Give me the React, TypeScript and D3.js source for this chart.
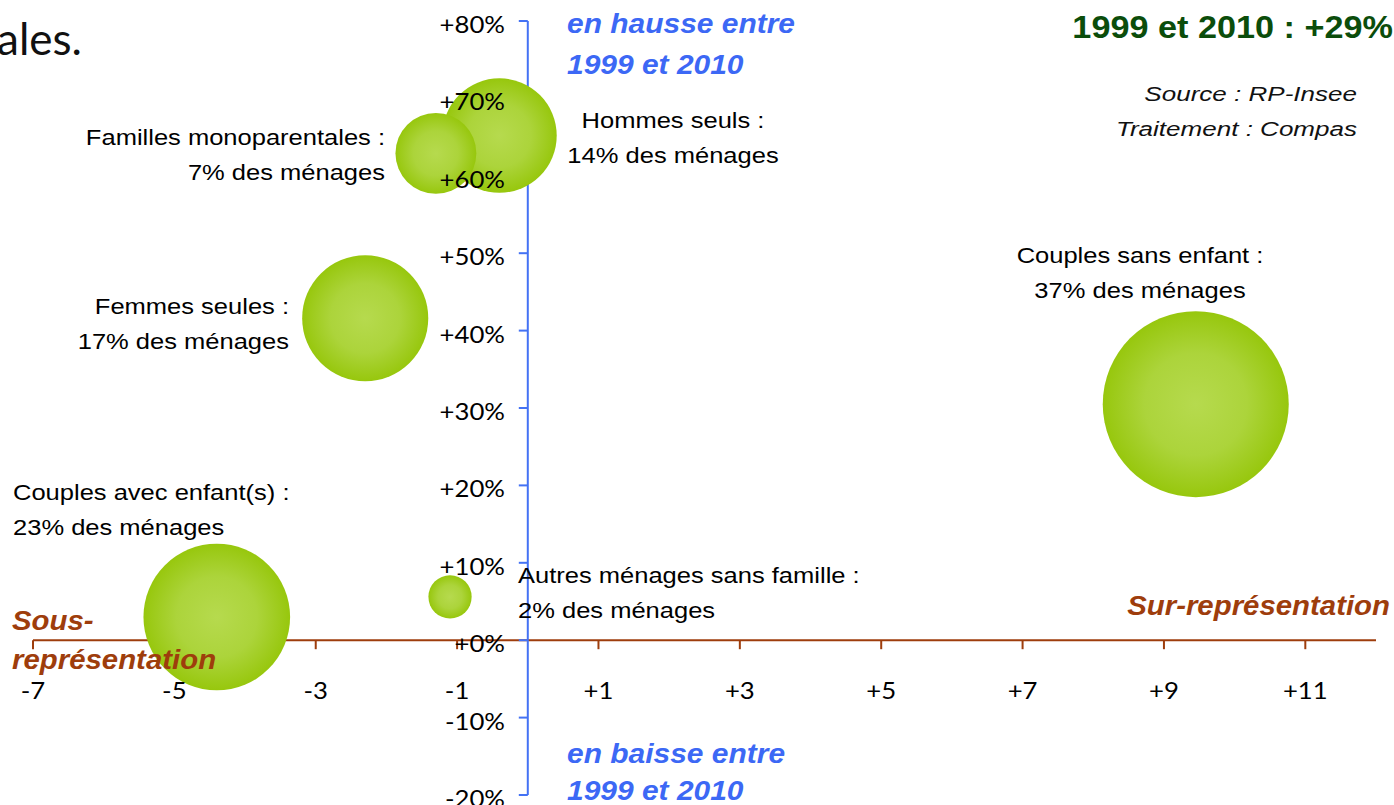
import React from 'react';
import * as d3 from 'd3';

// household types, share of households, over/under-representation (pts) and growth 1999-2010 (%)
const categories = [
  'Hommes seuls',
  'Familles monoparentales',
  'Femmes seules',
  'Couples sans enfant',
  'Couples avec enfant(s)',
  'Autres ménages sans famille',
];
const sharePct = [14, 7, 17, 37, 23, 2];
const representation = [-0.4, -1.3, -2.3, 9.45, -4.4, -1.1];
const growthPct = [65.2, 62.9, 41.6, 30.5, 3.0, 5.6];

const xTicks = [-7, -5, -3, -1, 1, 3, 5, 7, 9, 11];
const yTicks = [-20, -10, 0, 10, 20, 30, 40, 50, 60, 70, 80];

const titleText = '1999 et 2010 : +29%';
const sourceLines = ['Source : RP-Insee', 'Traitement : Compas'];

// where each bubble label sits
const labelLayout = [
  { x: 673, y: 128, anchor: 'middle' },
  { x: 385, y: 145, anchor: 'end' },
  { x: 289, y: 314, anchor: 'end' },
  { x: 1140, y: 263, anchor: 'middle' },
  { x: 13, y: 500, anchor: 'start' },
  { x: 518, y: 583, anchor: 'start' },
];

const W = 1394;
const H = 805;
const labelFont = "'Liberation Sans', Arial, sans-serif";
const tickFont = "Lato, 'Open Sans', sans-serif";
const blue = '#4472f4';
const brown = '#9e3d0c';

const T = ({ x, y, sx = 1, anchor = 'start', children, ...rest }: any) => (
  <text transform={`translate(${x},${y}) scale(${sx},1)`} textAnchor={anchor} {...rest}>
    {children}
  </text>
);

const App = () => {
  const x = d3.scaleLinear().domain([-7, 12]).range([33, 1376]);
  const y = d3.scaleLinear().domain([-20, 80]).range([795, 21]);
  const r = d3.scaleSqrt().domain([0, 37]).range([0, 93]);

  const x0 = x(0);
  const y0 = y(0);

  const fmtY = (d: number) => (d >= 0 ? '+' : '') + d + '%';
  const fmtX = (d: number) => (d > 0 ? '+' : '') + d;

  return (
    <svg width={W} height={H} style={{ position: 'absolute', left: 0, top: 0, background: '#fff' }}>
      <defs>
        <radialGradient id="bub" cx="50%" cy="50%" r="50%">
          <stop offset="0%" stopColor="#b6da4e" />
          <stop offset="55%" stopColor="#acd43b" />
          <stop offset="100%" stopColor="#97c70d" />
        </radialGradient>
      </defs>

      {/* leftover slide text */}
      <T x={82} y={55} anchor="end" fontFamily={tickFont} fontSize={44} fill="#111">ales.</T>

      {/* x axis */}
      <line x1={x(-7)} x2={x(12)} y1={y0} y2={y0} stroke={brown} strokeWidth={2} />
      {xTicks.map((d) => (
        <line key={d} x1={x(d)} x2={x(d)} y1={y0} y2={y0 + 9} stroke={brown} strokeWidth={2} />
      ))}

      {/* y axis */}
      <line x1={x0} x2={x0} y1={y(80)} y2={y(-20)} stroke={blue} strokeWidth={2} />
      {yTicks.map((d) => (
        <line key={d} x1={x0 - 9} x2={x0} y1={y(d)} y2={y(d)} stroke={blue} strokeWidth={2} />
      ))}

      {/* bubbles */}
      {categories.map((c, i) => (
        <circle
          key={c}
          cx={x(representation[i])}
          cy={y(growthPct[i])}
          r={r(sharePct[i])}
          fill="url(#bub)"
        />
      ))}

      {/* tick labels */}
      {yTicks.map((d) => (
        <T key={d} x={505} y={y(d) + 12} sx={1.12} anchor="end" fontFamily={tickFont} fontSize={23} fill="#000">
          {fmtY(d)}
        </T>
      ))}
      {xTicks.map((d) => (
        <T key={d} x={x(d)} y={699} sx={1.12} anchor="middle" fontFamily={tickFont} fontSize={23} fill="#000">
          {fmtX(d)}
        </T>
      ))}

      {/* quadrant captions */}
      <g fontFamily={labelFont} fontWeight="bold" fontStyle="italic" fontSize={28} fill="#3c68f5">
        <T x={567} y={33} sx={1.07}>en hausse entre</T>
        <T x={567} y={74} sx={1.07}>1999 et 2010</T>
        <T x={567} y={763} sx={1.07}>en baisse entre</T>
        <T x={567} y={800} sx={1.07}>1999 et 2010</T>
      </g>
      <g fontFamily={labelFont} fontWeight="bold" fontStyle="italic" fontSize={28} fill={brown}>
        <T x={1390} y={615} sx={1.05} anchor="end">Sur-représentation</T>
        <T x={12} y={630} sx={1.05}>Sous-</T>
        <T x={12} y={669} sx={1.05}>représentation</T>
      </g>

      {/* title and source */}
      <T x={1393} y={38} sx={1.07} anchor="end" fontFamily={labelFont} fontWeight="bold" fontSize={32} fill="#0b4d0b">
        {titleText}
      </T>
      {sourceLines.map((s, i) => (
        <T key={s} x={1357} y={101 + i * 35} sx={1.24} anchor="end" fontFamily={labelFont} fontStyle="italic" fontSize={21} fill="#111">
          {s}
        </T>
      ))}

      {/* bubble labels */}
      {categories.map((c, i) => {
        const p = labelLayout[i];
        return (
          <g key={c} fontFamily={labelFont} fontSize={22} fill="#000">
            <T x={p.x} y={p.y} sx={1.16} anchor={p.anchor}>{c} :</T>
            <T x={p.x} y={p.y + 35} sx={1.16} anchor={p.anchor}>{sharePct[i]}% des ménages</T>
          </g>
        );
      })}
    </svg>
  );
};

export default App;
